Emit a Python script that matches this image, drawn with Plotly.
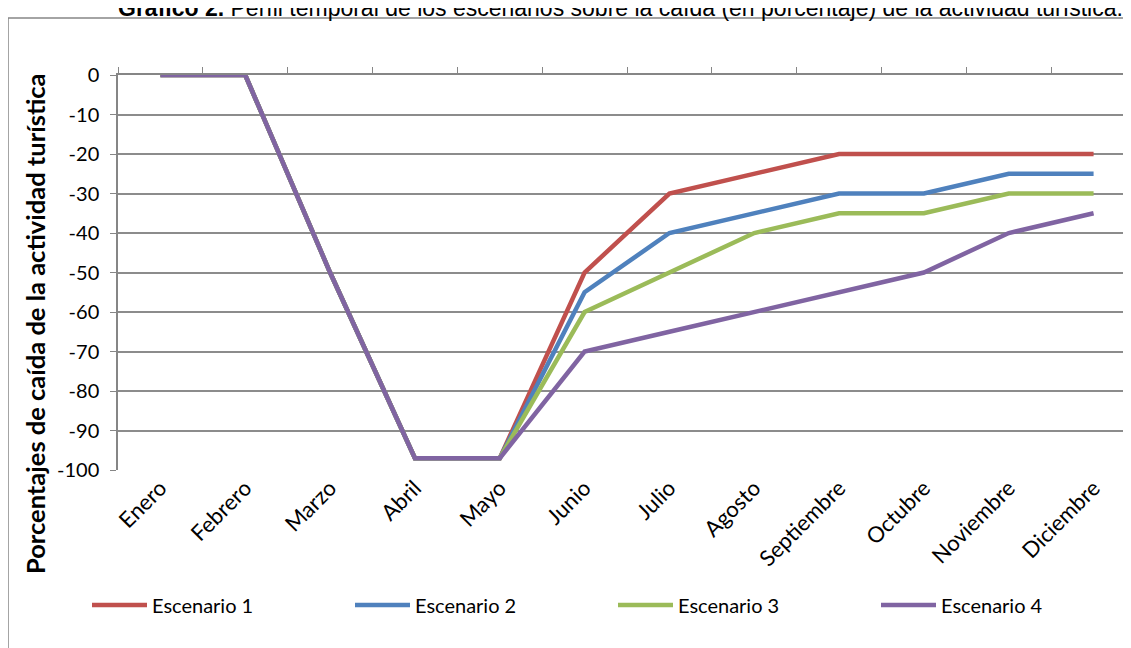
import plotly.graph_objects as go

meses = ["Enero", "Febrero", "Marzo", "Abril", "Mayo", "Junio", "Julio",
         "Agosto", "Septiembre", "Octubre", "Noviembre", "Diciembre"]
escenario_1 = [0, 0, -50, -97, -97, -50, -30, -25, -20, -20, -20, -20]
escenario_2 = [0, 0, -50, -97, -97, -55, -40, -35, -30, -30, -25, -25]
escenario_3 = [0, 0, -50, -97, -97, -60, -50, -40, -35, -35, -30, -30]
escenario_4 = [0, 0, -50, -97, -97, -70, -65, -60, -55, -50, -40, -35]
nombres = ["Escenario 1", "Escenario 2", "Escenario 3", "Escenario 4"]
colores = ["#C0504D", "#4F81BD", "#9BBB59", "#8064A2"]
y_ticks = list(range(-100, 1, 10))
y_ticktext = [str(v) for v in y_ticks]

FONT = "Lato"
W, H = 1131, 648
OFF = 8  # page body margin offset
L, R, T, B = 118 - OFF, 3, 75 - OFF, H - (470 - OFF)
pw, ph = W - L - R, H - T - B

def px_x(p):
    # p is a page pixel position
    return (p - OFF - L) / pw

def px_y(p):
    return 1 - (p - OFF - T) / ph

fig = go.Figure()
for nombre, serie, color in zip(nombres, [escenario_1, escenario_2, escenario_3, escenario_4], colores):
    fig.add_trace(go.Scatter(x=meses, y=serie, mode="lines", name=nombre,
                             line=dict(color=color, width=4.5)))
# invisible trace to drive the top tick axis
fig.add_trace(go.Scatter(x=meses, y=escenario_1, xaxis="x2", mode="lines",
                         line=dict(color="rgba(0,0,0,0)"), showlegend=False,
                         hoverinfo="skip"))

xr = [-0.5, 11.5]
fig.update_layout(
    width=W, height=H,
    margin=dict(l=L, r=R, t=T, b=B, pad=0, autoexpand=False),
    paper_bgcolor="white", plot_bgcolor="white",
    font=dict(family=FONT, size=20, color="black"),
    xaxis=dict(type="category", categoryorder="array", categoryarray=meses,
               range=xr, tickangle=-45, showgrid=False, showline=False,
               ticks="", zeroline=False, automargin=False,
               tickfont=dict(size=22, family=FONT)),
    xaxis2=dict(type="category", categoryorder="array", categoryarray=meses,
                overlaying="x", side="top", anchor="y", range=xr,
                tickson="boundaries", ticks="outside", ticklen=6,
                tickcolor="#868686", showticklabels=False, showgrid=False,
                showline=True, linecolor="#868686", linewidth=1.5,
                automargin=False),
    yaxis=dict(range=[-100, 0.01], tickvals=y_ticks, ticktext=y_ticktext,
               showgrid=True, gridcolor="#8c8c8c", gridwidth=1.5,
               zeroline=False, showline=True, linecolor="#868686",
               linewidth=1.5, ticks="outside", ticklen=6,
               tickcolor="#868686", automargin=False,
               tickfont=dict(size=20, family=FONT), ticklabelstandoff=7),
    showlegend=True,
    legend=dict(orientation="h", x=px_x(87), y=px_y(605), xanchor="left",
                yanchor="middle", entrywidth=193, entrywidthmode="pixels",
                font=dict(size=20, family=FONT), bgcolor="rgba(0,0,0,0)",
                itemwidth=55, tracegroupgap=0),
)

fig.add_annotation(text="<b>Porcentajes de caída de la actividad turística</b>",
                   xref="paper", yref="paper", x=px_x(35), y=px_y(324),
                   xanchor="center", yanchor="middle", textangle=-90,
                   showarrow=False, font=dict(size=25.5, family=FONT))
fig.add_annotation(text="<b>Gráfico 2.</b> Perfil temporal de los escenarios sobre la caída (en porcentaje) de la actividad turística.",
                   xref="paper", yref="paper", x=px_x(620), y=px_y(23),
                   xanchor="center", yanchor="bottom", showarrow=False,
                   font=dict(size=23, family="Liberation Sans"))
fig.add_shape(type="rect", xref="paper", yref="paper",
              x0=px_x(8), x1=px_x(1145), y0=px_y(665), y1=px_y(18),
              line=dict(color="#868686", width=1.5), layer="below")

fig.write_html("out.html")
